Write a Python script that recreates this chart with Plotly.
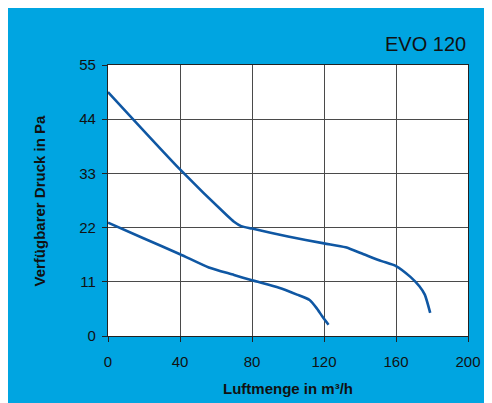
import plotly.graph_objects as go

upper_x = [0, 40, 66, 70, 74, 80, 100, 120, 132, 142, 152, 160, 168, 173, 176, 179]
upper_y = [49.5, 33.8, 24.5, 23.2, 22.3, 21.8, 20.2, 18.8, 18.0, 16.6, 15.2, 14.2, 12.0, 10.1, 8.4, 4.7]

lower_x = [0, 20, 40, 56, 70, 80, 95, 105, 112, 116, 119, 122.5]
lower_y = [23, 19.8, 16.6, 13.9, 12.4, 11.3, 9.8, 8.4, 7.3, 5.6, 4.0, 2.3]

x_ticks = [0, 40, 80, 120, 160, 200]
y_ticks = [0, 11, 22, 33, 44, 55]

title_text = "EVO 120"
x_title = "Luftmenge in m³/h"
y_title = "Verfügbarer Druck in Pa"

BLUE_BG = "#00A5E1"
LINE = "#0F57A3"
FONT = "Liberation Sans, Arial, sans-serif"

fig = go.Figure()
for xs, ys in [(upper_x, upper_y), (lower_x, lower_y)]:
    fig.add_trace(go.Scatter(x=xs, y=ys, mode="lines",
                             line=dict(color=LINE, width=2.6, shape="spline", smoothing=0.6),
                             hoverinfo="skip", showlegend=False))

W, H = 484, 395
L, R, T, B = 100, 24, 57, 67
pw, ph = W - L - R, H - T - B

axis_common = dict(showline=True, linecolor="#222", linewidth=1.2, mirror=True,
                   showgrid=True, gridcolor="#4a4a4a", gridwidth=1,
                   ticks="outside", ticklen=5, tickcolor="#222", tickwidth=1,
                   zeroline=False, automargin=False,
                   tickfont=dict(family=FONT, size=15, color="#111"))

fig.update_xaxes(range=[0, 200], tickvals=x_ticks, ticklabelstandoff=7, **axis_common)
fig.update_yaxes(range=[0, 55], tickvals=y_ticks, ticklabelstandoff=3, **axis_common)

title_font = dict(family=FONT, size=15, color="#111")
fig.update_layout(
    width=W, height=H,
    margin=dict(l=L, r=R, t=T, b=B),
    paper_bgcolor=BLUE_BG, plot_bgcolor="white",
    annotations=[
        dict(text=title_text, xref="paper", yref="paper", x=1.0, xanchor="right",
             y=(H - B - 36) / ph, yanchor="middle", showarrow=False,
             font=dict(family=FONT, size=20, color="#111")),
        dict(text="<b>" + x_title + "</b>", xref="paper", yref="paper", x=0.5, xanchor="center",
             y=-(380 - (H - B)) / ph, yanchor="middle", showarrow=False, font=title_font),
        dict(text="<b>" + y_title + "</b>", xref="paper", yref="paper", x=(31 - L) / pw, xanchor="center",
             y=0.5, yanchor="middle", textangle=-90, showarrow=False, font=title_font),
    ],
)

fig.write_html("out.html")
